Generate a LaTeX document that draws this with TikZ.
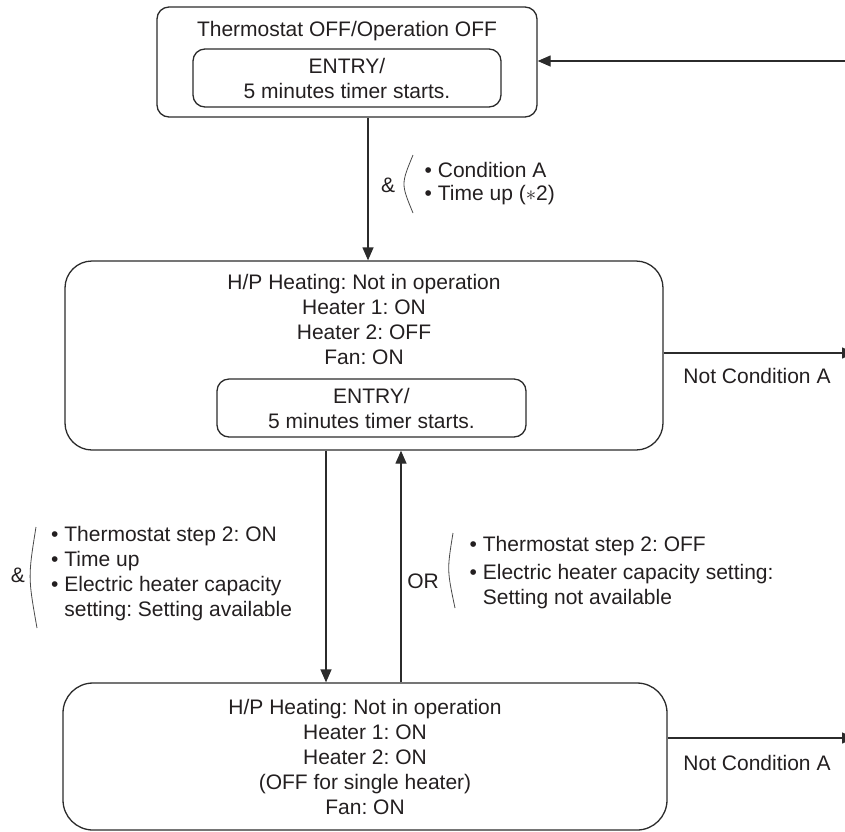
\documentclass[tikz,border=0pt]{standalone}
\usepackage{fontspec}
\setmainfont{Liberation Sans}
\frenchspacing
\usetikzlibrary{arrows.meta,calc}
\definecolor{stInk}{HTML}{231F20}
\definecolor{stLine}{HTML}{2B2B2B}
\definecolor{stMuted}{HTML}{4A4A4A}
\tikzset{
  st text/.style={font=\fontsize{21}{25}\selectfont, text=stInk, inner sep=0pt},
  st box/.style={draw=stLine, line width=1.3pt, st text},
  st state/.style={st box, rounded corners=27pt},
  st entry/.style={st box, rounded corners=12pt, align=center},
  st arrow/.style={
    draw=stLine,
    line width=1.3pt,
    -{Triangle[length=13pt,width=11pt]}
  },
  st brace/.style={draw=stMuted, line width=.8pt},
  st list/.style={st text, anchor=west, align=left}
}
\begin{document}
\begin{tikzpicture}[x=1pt,y=-1pt]
  \useasboundingbox (0,0) rectangle (845,831);

  % states
  \node[st box, rounded corners=12pt, minimum width=380pt, minimum height=110pt] (off) at (347,62) {};
  \node[st text] (offTitle) at (347,31) {Thermostat OFF/Operation OFF};
  \node[st entry, minimum width=308pt, minimum height=58pt] (offEntry) at (347,78)
    {ENTRY/\\5 minutes timer starts.};

  \node[st state, minimum width=598pt, minimum height=189pt] (hp1) at (364,355.5) {};
  \node[st text, align=center] (hp1Text) at (364,319.5)
    {H/P Heating: Not in operation\\Heater 1: ON\\Heater 2: OFF\\Fan: ON};
  \node[st entry, minimum width=309pt, minimum height=58pt] (hp1Entry) at (371.5,408)
    {ENTRY/\\5 minutes timer starts.};

  \node[st state, rounded corners=30pt, align=center, minimum width=604pt, minimum height=147pt]
    (hp2) at (365,756.5)
    {H/P Heating: Not in operation\\Heater 1: ON\\Heater 2: ON\\(OFF for single heater)\\Fan: ON};

  % transitions
  \coordinate (back) at (845,61);
  \coordinate (out1) at (855,353);
  \coordinate (out2) at (855,738);
  \draw[st arrow] (back) -- (back -| off.east);
  \draw[st arrow] ([xshift=21pt]off.south) -- ([xshift=21pt]off.south |- hp1.north);
  \draw[st arrow] ([xshift=-38pt]hp1.south) -- ([xshift=-38pt]hp1.south |- hp2.north);
  \draw[st arrow] ([xshift=36pt]hp2.north) -- ([xshift=36pt]hp2.north |- hp1.south);
  \draw[st arrow] (out1 -| hp1.east) -- (out1);
  \draw[st arrow] (out2 -| hp2.east) -- (out2);

  \node[st text] (notA1) at (757,376) {Not Condition A};
  \node[st text] (notA2) at (757,763) {Not Condition A};

  % conditions
  \node[st text] (andA) at (388,185) {\&};
  \draw[st brace] (413,155) .. controls (401,184) .. (413,213);
  \node[st list, font=\fontsize{21}{23}\selectfont] (condA) at (424.5,184)
    {\textbullet\ Condition A\\\textbullet\ Time up ($\ast$2)};

  \node[st text] (andB) at (18,575) {\&};
  \draw[st brace] (36,527) .. controls (28,577) .. (37,628);
  \node[st list] (condB) at (51,574)
    {\textbullet\ Thermostat step 2: ON\\\textbullet\ Time up\\\textbullet\ Electric heater capacity\\
     \phantom{\textbullet\ }setting: Setting available};

  \node[st text] (orC) at (423,581) {OR};
  \draw[st brace] (453,533) .. controls (447,570) .. (455,608);
  \node[st list] (condC) at (469.5,572.5)
    {\textbullet\ Thermostat step 2: OFF\\[3pt]\textbullet\ Electric heater capacity setting:\\
     \phantom{\textbullet\ }Setting not available};
\end{tikzpicture}
\end{document}
